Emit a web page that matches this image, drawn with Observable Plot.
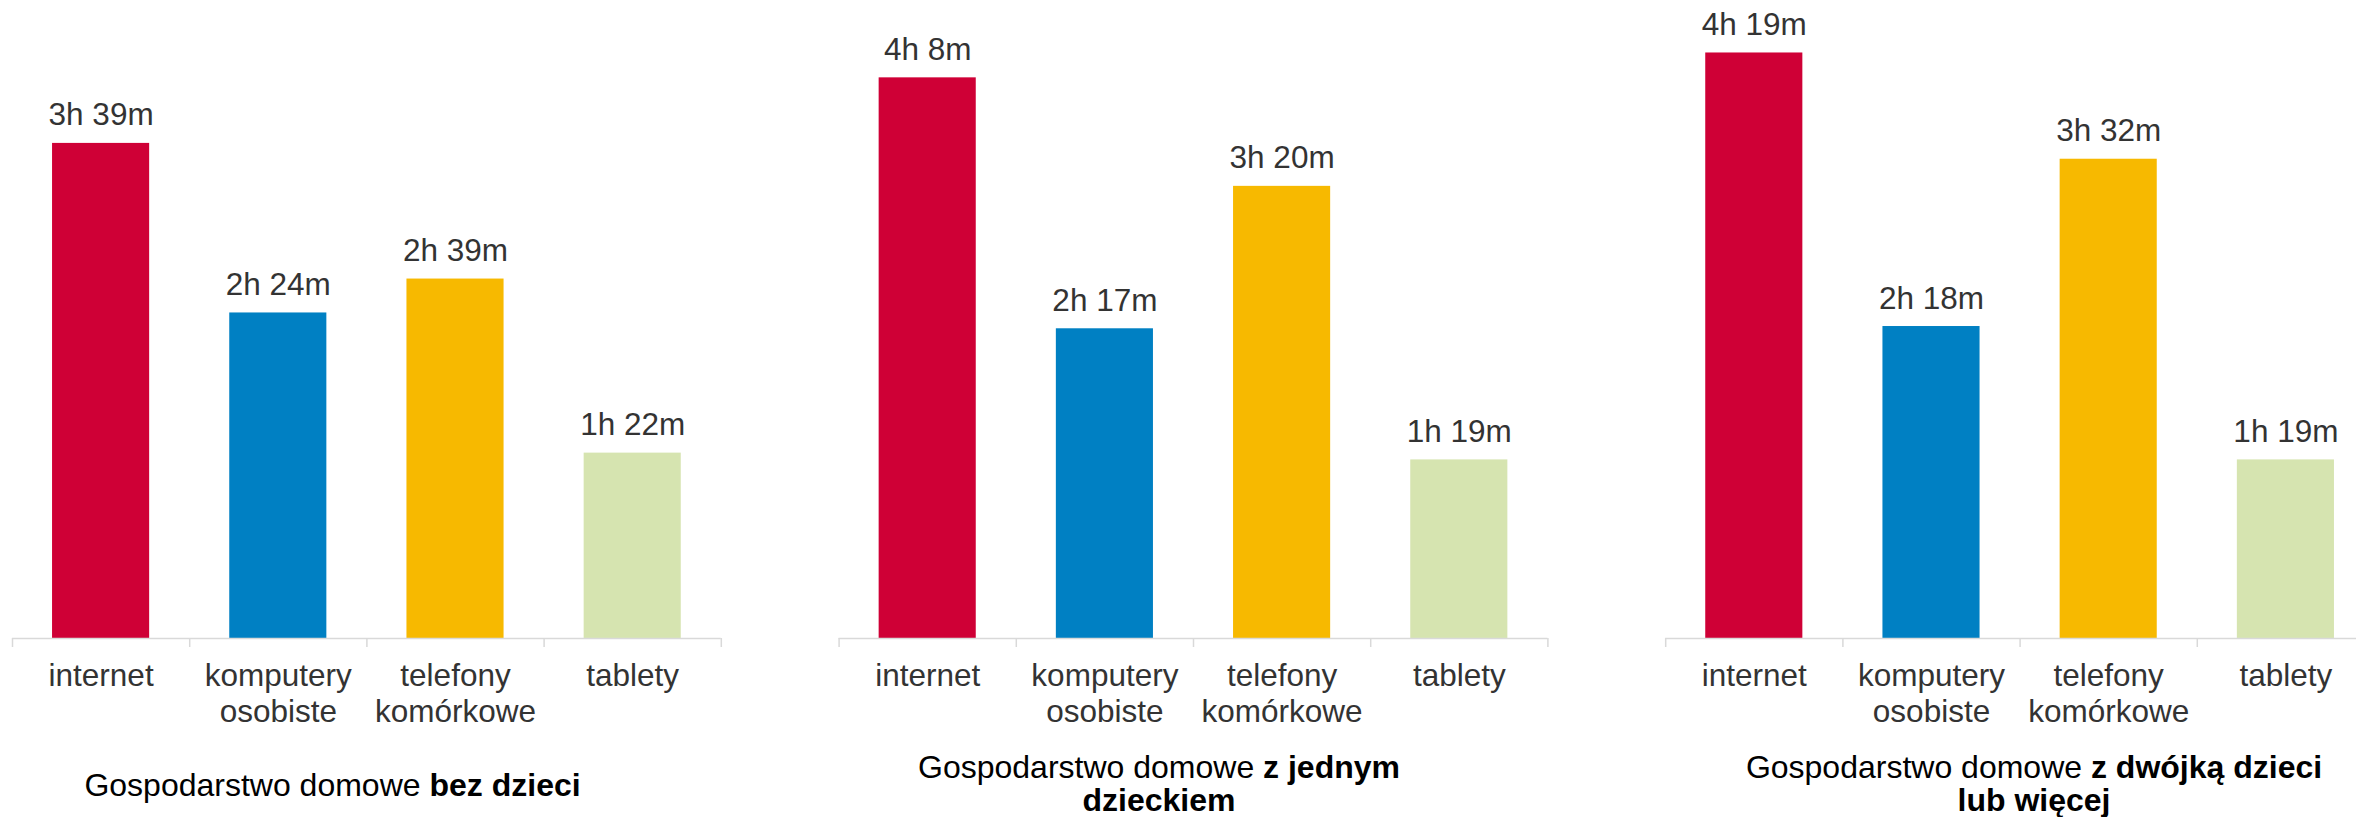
<!DOCTYPE html>
<html>
<head>
<meta charset="utf-8">
<script src="https://cdn.jsdelivr.net/npm/d3@7"></script>
<script src="https://cdn.jsdelivr.net/npm/@observablehq/plot@0.6"></script>
<style>
  html, body { margin: 0; padding: 0; background: #fff; overflow: hidden; }
  #wrap { position: relative; width: 2356px; height: 817px; overflow: hidden; font-family: "Liberation Sans", Arial, sans-serif; }
  .title { position: absolute; font-size: 32px; line-height: 33px; color: #000; text-align: center; white-space: nowrap; width: 800px; }
  .title b { font-weight: 700; }
</style>
</head>
<body>
<div id="wrap"></div>
<script>
// ---- data ----
const groups = ["bez dzieci", "z jednym dzieckiem", "z dwójką dzieci lub więcej"];
const categories = ["internet", "komputery osobiste", "telefony komórkowe", "tablety"];
const categoryLabels = ["internet", "komputery\nosobiste", "telefony\nkomórkowe", "tablety"];
const colors = ["#cf0036", "#0080c3", "#f7b900", "#d6e4b0"];
// minutes per day
const bezDzieci = [219, 144, 159, 82];          // 3h39m, 2h24m, 2h39m, 1h22m
const zJednymDzieckiem = [248, 137, 200, 79];   // 4h8m, 2h17m, 3h20m, 1h19m
const zDwojkaDzieci = [259, 138, 212, 79];      // 4h19m, 2h18m, 3h32m, 1h19m
const seriesByGroup = [bezDzieci, zJednymDzieckiem, zDwojkaDzieci];
const titleHtml = [
  'Gospodarstwo domowe <b>bez dzieci</b>',
  'Gospodarstwo domowe <b>z jednym</b><br><b>dzieckiem</b>',
  'Gospodarstwo domowe <b>z dwójką dzieci</b><br><b>lub więcej</b>'
];

const rows = [];
groups.forEach((g, gi) => categories.forEach((c, ci) => rows.push({group: g, cat: c, value: seriesByGroup[gi][ci]})));
const labelRows = [];
groups.forEach(g => categories.forEach((c, ci) => labelRows.push({group: g, cat: c, label: categoryLabels[ci]})));
const fmt = v => `${Math.floor(v / 60)}h ${v % 60}m`;

const font = '"Liberation Sans", Arial, sans-serif';
const step = 177.2;
const last = categories[categories.length - 1];

const chart = Plot.plot({
  width: 2374,
  height: 745,
  marginLeft: 12,
  marginRight: 0,
  marginTop: 5,
  marginBottom: 107,
  style: {fontFamily: font, maxWidth: "none", overflow: "visible", background: "transparent"},
  fx: {domain: groups, paddingInner: 0.1425, paddingOuter: 0, round: false, axis: null, label: null},
  x: {domain: categories, paddingInner: 0.452, paddingOuter: 0.226, round: false, axis: null, label: null},
  y: {domain: [0, 280], axis: null, label: null},
  color: {domain: categories, range: colors},
  marks: [
    Plot.barY(rows, {fx: "group", x: "cat", y: "value", fill: "cat"}),
    Plot.ruleY([0], {stroke: "#d9d9d9", strokeWidth: 1.5}),
    Plot.ruleX(categories, {x: d => d, y1: 0, y2: 0, dx: -step / 2, insetBottom: -9, stroke: "#d9d9d9", strokeWidth: 1.5}),
    Plot.ruleX([last], {x: d => d, y1: 0, y2: 0, dx: step / 2, insetBottom: -9, stroke: "#d9d9d9", strokeWidth: 1.5}),
    Plot.text(rows, {fx: "group", x: "cat", y: "value", text: d => fmt(d.value), lineAnchor: "bottom", dy: -18, fontSize: 31.5, fill: "#333333"}),
    Plot.text(labelRows, {fx: "group", x: "cat", text: "label", frameAnchor: "bottom", lineAnchor: "top", lineHeight: 1.15, dy: 22, fontSize: 31.5, fill: "#333333"})
  ]
});

const wrap = document.getElementById("wrap");
wrap.appendChild(chart);

const titleCenters = [332.5, 1159, 2034];
const titleTops = [768.5, 750.5, 750.5];
titleHtml.forEach((h, i) => {
  const d = document.createElement("div");
  d.className = "title";
  d.innerHTML = h;
  d.style.left = (titleCenters[i] - 400) + "px";
  d.style.top = titleTops[i] + "px";
  wrap.appendChild(d);
});
</script>
</body>
</html>
